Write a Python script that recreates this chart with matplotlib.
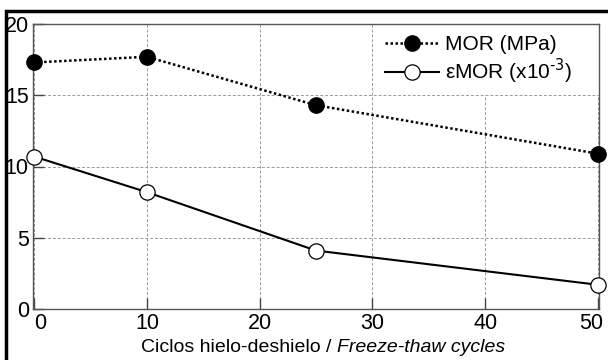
import matplotlib.pyplot as plt
import matplotlib.transforms as mtransforms
from matplotlib.patches import Rectangle
from matplotlib.offsetbox import TextArea, HPacker, AnchoredOffsetbox

ciclos = [0, 10, 25, 50]
mor = [17.3, 17.7, 14.3, 10.9]
emor = [10.7, 8.2, 4.1, 1.7]

plt.rcParams['font.family'] = ['Liberation Sans', 'DejaVu Sans']

fig = plt.figure(figsize=(6.08, 3.6), dpi=100)
ax = fig.add_axes([33 / 608, 1 - 309 / 360, 566 / 608, 285 / 360])

ax.plot(ciclos, mor, color='black', linestyle=(0, (1, 1)), linewidth=1.8,
        marker='o', markersize=11, markerfacecolor='black',
        markeredgecolor='black', clip_on=False, zorder=3, label='MOR (MPa)')
ax.plot(ciclos, emor, color='black', linestyle='-', linewidth=1.5,
        marker='o', markersize=11, markerfacecolor='white',
        markeredgecolor='black', markeredgewidth=0.9, clip_on=False, zorder=3,
        label='εMOR (x10$^{\\text{-}3}$)')

ax.set_xlim(-0.1, 50.1)
ax.set_ylim(0, 20)
ax.set_xticks([0, 10, 20, 30, 40, 50])
ax.set_yticks([0, 5, 10, 15, 20])
ax.tick_params(direction='in', length=8, width=1, labelsize=15.5, pad=3,
               color='#444444')
ax.grid(True, color='#999999', linestyle=(0, (3, 2)), linewidth=0.7)
ax.set_axisbelow(True)
for s in ax.spines.values():
    s.set_color('#555555')
    s.set_linewidth(1)

# first and last x labels sit a bit inside, as in the original
lbls = ax.get_xticklabels()
lbls[0].set_transform(lbls[0].get_transform() +
                      mtransforms.ScaledTranslation(6 / 100, 0, fig.dpi_scale_trans))
lbls[-1].set_transform(lbls[-1].get_transform() +
                       mtransforms.ScaledTranslation(-7 / 100, 0, fig.dpi_scale_trans))

# white area behind the legend (hides the grid)
ax.add_patch(Rectangle((0.615, 0.75), 0.385, 0.25, transform=ax.transAxes,
                       facecolor='white', edgecolor='none', zorder=1))

leg = ax.legend(loc='upper left', bbox_to_anchor=(0.622, 0.96), fontsize=15,
                frameon=False, borderpad=0, borderaxespad=0,
                handlelength=2.6, handletextpad=0.3, labelspacing=0.1)

# xlabel with italic part
t1 = TextArea('Ciclos hielo-deshielo / ', textprops=dict(fontsize=14))
t2 = TextArea('Freeze-thaw cycles', textprops=dict(fontsize=14, style='italic'))
box = HPacker(children=[t1, t2], align='baseline', pad=0, sep=0)
anch = AnchoredOffsetbox(loc='center', child=box, frameon=False,
                         bbox_to_anchor=(323 / 608, 1 - 348 / 360),
                         bbox_transform=fig.transFigure, borderpad=0, pad=0)
fig.add_artist(anch)

# outer frame
fig.add_artist(Rectangle((6 / 608, -0.2), 1.2, 1.2 - 11 / 360,
                         transform=fig.transFigure, fill=False,
                         edgecolor='black', linewidth=2.5))

fig.savefig('out.png', dpi=100)
